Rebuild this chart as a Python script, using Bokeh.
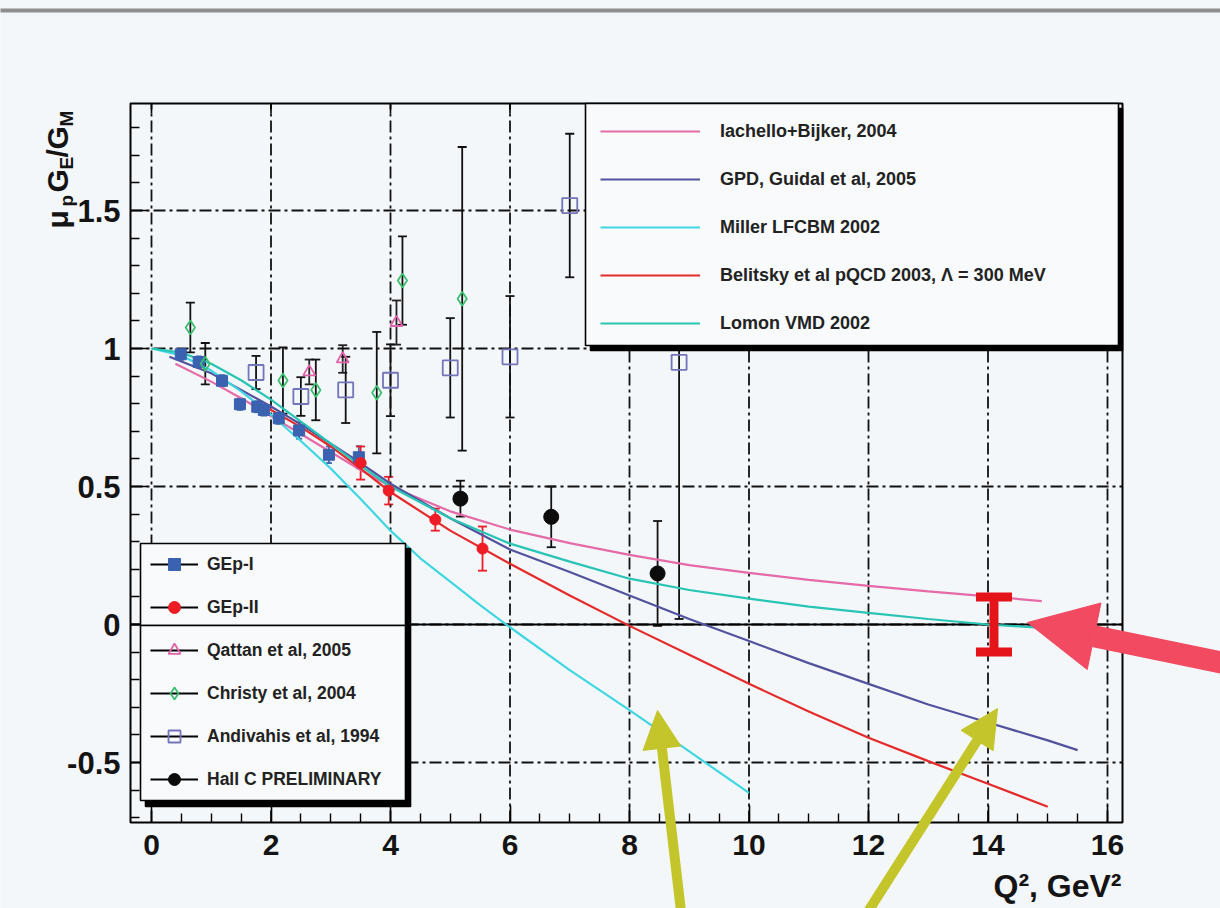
import math
import numpy as np
from bokeh.plotting import figure
from bokeh.models import (Range1d, FixedTicker, BoxAnnotation, Label, Legend, LegendItem,
                          Whisker, TeeHead, ColumnDataSource, Arrow, NormalHead)
from bokeh.embed import file_html
from bokeh.resources import INLINE

# ---------------- data ----------------
x_major = [0, 2, 4, 6, 8, 10, 12, 14, 16]
x_minor = [0.5, 1, 1.5, 2.5, 3, 3.5, 4.5, 5, 5.5, 6.5, 7, 7.5, 8.5, 9, 9.5, 10.5, 11, 11.5,
           12.5, 13, 13.5, 14.5, 15, 15.5]
x_tick_labels = ["0", "2", "4", "6", "8", "10", "12", "14", "16"]
y_major = [-0.5, 0, 0.5, 1, 1.5]
y_minor = [-0.7, -0.6, -0.4, -0.3, -0.2, -0.1, 0.1, 0.2, 0.3, 0.4, 0.6, 0.7, 0.8, 0.9,
           1.1, 1.2, 1.3, 1.4, 1.6, 1.7, 1.8]
y_tick_labels = ["-0.5", "0", "0.5", "1", "1.5"]

# theory curves
iach_q2 = [0.4, 1, 1.5, 2, 2.5, 3, 3.5, 4, 5, 6, 7, 8, 9, 10, 11, 12, 13, 14, 14.9]
iach_r = [0.945, 0.88, 0.82, 0.755, 0.69, 0.625, 0.56, 0.50, 0.41, 0.344, 0.295, 0.252,
          0.215, 0.187, 0.162, 0.140, 0.120, 0.102, 0.085]
gpd_q2 = [0.3, 1, 1.5, 2, 2.5, 3, 3.5, 4, 5, 6, 7, 8, 9, 10, 11, 12, 13, 14, 15, 15.5]
gpd_r = [0.97, 0.91, 0.85, 0.79, 0.725, 0.655, 0.585, 0.51, 0.385, 0.272, 0.19, 0.105,
         0.02, -0.06, -0.14, -0.215, -0.29, -0.355, -0.42, -0.455]
miller_q2 = [0, 0.5, 1, 1.5, 2, 2.5, 3, 3.5, 4, 4.5, 5, 5.5, 6, 7, 8, 9, 10]
miller_r = [1.0, 0.975, 0.92, 0.845, 0.76, 0.665, 0.565, 0.455, 0.34, 0.24, 0.155, 0.07,
            -0.01, -0.165, -0.31, -0.46, -0.61]
bel_q2 = [1.9, 2.5, 3, 3.5, 4, 5, 6, 7, 8, 9, 10, 11, 12, 13, 14, 15]
bel_r = [0.79, 0.715, 0.645, 0.565, 0.48, 0.34, 0.22, 0.105, -0.005, -0.11, -0.215,
         -0.315, -0.41, -0.495, -0.577, -0.66]
lomon_q2 = [0, 0.5, 1, 1.5, 2, 2.5, 3, 3.5, 4, 5, 6, 7, 8, 9, 10, 11, 12, 13, 14, 14.9]
lomon_r = [1.0, 0.985, 0.945, 0.885, 0.815, 0.735, 0.655, 0.575, 0.50, 0.385, 0.293,
           0.228, 0.166, 0.125, 0.094, 0.065, 0.042, 0.02, 0.0, -0.012]

# measurements
gep1_q2 = [0.49, 0.79, 1.18, 1.48, 1.77, 1.88, 2.13, 2.47, 2.97, 3.47]
gep1_r = [0.979, 0.951, 0.883, 0.798, 0.789, 0.777, 0.747, 0.703, 0.615, 0.606]
gep1_e = [0.02, 0.02, 0.02, 0.02, 0.02, 0.02, 0.02, 0.03, 0.03, 0.04]
gep2_q2 = [3.50, 3.97, 4.75, 5.54]
gep2_r = [0.585, 0.485, 0.38, 0.275]
gep2_e = [0.06, 0.05, 0.04, 0.08]
qattan_q2 = [2.64, 3.20, 4.10]
qattan_r = [0.915, 0.962, 1.094]
qattan_e = [0.045, 0.05, 0.08]
christy_q2 = [0.65, 0.90, 2.20, 2.75, 3.77, 4.20, 5.20]
christy_r = [1.076, 0.945, 0.884, 0.85, 0.84, 1.246, 1.18]
christy_e = [0.09, 0.075, 0.12, 0.11, 0.22, 0.16, 0.55]
andiv_q2 = [1.75, 2.50, 3.25, 4.00, 5.00, 6.00, 7.00, 8.83]
andiv_r = [0.913, 0.826, 0.85, 0.885, 0.93, 0.97, 1.518, 0.95]
andiv_e = [0.06, 0.07, 0.12, 0.13, 0.18, 0.22, 0.26, 0.93]
hallc_q2 = [5.17, 6.69, 8.47]
hallc_r = [0.456, 0.39, 0.185]
hallc_e = [0.065, 0.11, 0.19]
proj_q2 = [14.1]
proj_r = [0.0]
proj_e = [0.1]

curve_labels = ["Iachello+Bijker, 2004", "GPD, Guidal et al, 2005", "Miller LFCBM 2002",
                "Belitsky et al pQCD 2003, \u039b = 300 MeV", "Lomon VMD 2002"]
data_labels = ["GEp-I", "GEp-II", "Qattan et al, 2005", "Christy et al, 2004",
               "Andivahis et al, 1994", "Hall C PRELIMINARY"]

# ---------------- layout helpers (pixel calibration of the picture) ----------------
W, H = 1220, 908
PX_X0, PX_PER_X = 151.0, 59.75
PX_Y0, PX_PER_Y = 624.0, 276.0


def dx(px):
    return (px - PX_X0) / PX_PER_X


def dy(py):
    return (PX_Y0 - py) / PX_PER_Y


FR_L, FR_R, FR_T, FR_B = dx(130), dx(1122), dy(103), dy(822)
BG = "#f4f7fa"
FONT = "Liberation Sans"

p = figure(width=W, height=H, x_range=Range1d(dx(0), dx(W)), y_range=Range1d(dy(H), dy(0)),
           output_backend="svg", toolbar_location=None, min_border=0,
           background_fill_color=BG, border_fill_color=BG, outline_line_color=None)
p.grid.visible = False

xt = FixedTicker(ticks=x_major, minor_ticks=x_minor)
yt = FixedTicker(ticks=y_major, minor_ticks=y_minor)

xa = p.xaxis[0]
xa.fixed_location = FR_B
xa.ticker = xt
xa.major_label_overrides = {float(t): s for t, s in zip(x_major, x_tick_labels)}
ya = p.yaxis[0]
ya.fixed_location = FR_L
ya.ticker = yt
ya.major_label_overrides = {float(t): s for t, s in zip(y_major, y_tick_labels)}
for ax, fs, so in ((xa, "30px", 12), (ya, "31px", 10)):
    ax.axis_line_color = None
    ax.major_tick_in = 17
    ax.major_tick_out = 0
    ax.minor_tick_in = 9
    ax.minor_tick_out = 0
    ax.major_tick_line_color = "black"
    ax.minor_tick_line_color = "black"
    ax.major_tick_line_width = 1.6
    ax.minor_tick_line_width = 1.4
    ax.major_label_standoff = so
    ax.major_label_text_font = FONT
    ax.major_label_text_font_style = "bold"
    ax.major_label_text_font_size = fs
    ax.major_label_text_color = "#141414"

# dash-dot grid inside the frame, at the major ticks
GRID = dict(line_color="#111111", line_width=1.8, line_dash="12 4 3 4")
p.segment(x0=x_major, y0=[FR_B] * len(x_major), x1=x_major, y1=[FR_T] * len(x_major), **GRID)
p.segment(x0=[FR_L] * len(y_major), y0=y_major, x1=[FR_R] * len(y_major), y1=y_major, **GRID)

# ticks on the upper edge of the frame
p.segment(x0=x_major, y0=[FR_T] * len(x_major), x1=x_major,
          y1=[dy(113)] * len(x_major), line_color="black", line_width=1.6)

# zero line
p.segment(x0=[FR_L], y0=[0], x1=[FR_R], y1=[0], line_color="black", line_width=2)

# theory curves
C_IACH, C_GPD, C_MILLER, C_BEL, C_LOMON = "#e46aa8", "#52529e", "#3fd6e4", "#e52a2a", "#28c4b4"
r_iach = p.line(iach_q2, iach_r, line_color=C_IACH, line_width=2.2)
r_gpd = p.line(gpd_q2, gpd_r, line_color=C_GPD, line_width=2.2)
r_mil = p.line(miller_q2, miller_r, line_color=C_MILLER, line_width=2.2)
r_bel = p.line(bel_q2, bel_r, line_color=C_BEL, line_width=2.2)
r_lom = p.line(lomon_q2, lomon_r, line_color=C_LOMON, line_width=2.2)


def bars(q, r, e, color, lw=1.8, cap=9, level=None):
    src = ColumnDataSource(dict(x=q, lo=[a - b for a, b in zip(r, e)],
                                hi=[a + b for a, b in zip(r, e)]))
    kw = {} if level is None else dict(level=level)
    w = Whisker(source=src, base="x", lower="lo", upper="hi", dimension="height",
                line_color=color, line_width=lw,
                upper_head=TeeHead(size=cap, line_color=color, line_width=lw),
                lower_head=TeeHead(size=cap, line_color=color, line_width=lw), **kw)
    p.add_layout(w)


bars(gep1_q2, gep1_r, gep1_e, "#3a62b0", cap=6)
bars(gep2_q2, gep2_r, gep2_e, "#ee1c25")
bars(qattan_q2, qattan_r, qattan_e, "#222222")
bars(christy_q2, christy_r, christy_e, "#111111")
bars(andiv_q2, andiv_r, andiv_e, "#111111")
bars(hallc_q2, hallc_r, hallc_e, "#111111")

s_gep1 = p.scatter(gep1_q2, gep1_r, marker="square", size=11, fill_color="#3a62b0",
                   line_color="#3a62b0")
s_gep2 = p.scatter(gep2_q2, gep2_r, marker="circle", size=11, fill_color="#ee1c25",
                   line_color="#ee1c25")
s_qat = p.scatter(qattan_q2, qattan_r, marker="triangle", size=12, fill_color=None,
                  line_color="#e062aa", line_width=1.8)
s_chr = p.scatter(christy_q2, christy_r, marker="diamond", size=14, fill_color=None,
                  line_color="#3cc070", line_width=1.8)
s_and = p.scatter(andiv_q2, andiv_r, marker="square", size=15, fill_color=None,
                  line_color="#7474b8", line_width=1.8)
s_hal = p.scatter(hallc_q2, hallc_r, marker="circle", size=15, fill_color="#0c0c0c",
                  line_color="#0c0c0c")
# legend-only black line (a single undefined point draws nothing in the plot)
blk = p.line(x=np.array([np.nan]), y=np.array([np.nan]), line_color="black", line_width=1.8)

# projected measurement
bars(proj_q2, proj_r, proj_e, "#e4141a", lw=9, cap=36, level="annotation")

# frame
p.add_layout(BoxAnnotation(left=FR_L, right=FR_R, top=FR_T, bottom=FR_B, fill_color=None,
                           fill_alpha=0, line_color="black", line_width=2, line_alpha=1))


def box(l, r, t, b, fill, line_color="black", lw=1.6, level="annotation"):
    p.add_layout(BoxAnnotation(left=dx(l), right=dx(r), top=dy(t), bottom=dy(b),
                               fill_color=fill, fill_alpha=1, line_color=line_color,
                               line_alpha=1, line_width=lw, level=level))


LEG_BG = "#f8fafc"
# top-right legend box with shadow
box(590, 1122, 108, 350, "black")
box(585, 1118, 103, 345, LEG_BG)
# bottom-left legend boxes with shadow
box(145, 410, 548, 806, "black")
box(140, 405, 543, 625, LEG_BG)
box(140, 405, 625, 800, LEG_BG)

leg_style = dict(padding=0, margin=0, border_line_color=None, background_fill_alpha=0,
                 label_text_font=FONT, label_text_font_style="bold",
                 label_text_color="#222222", glyph_height=30, label_height=30)
leg1 = Legend(items=[LegendItem(label=l, renderers=[r]) for l, r in
                     zip(curve_labels, [r_iach, r_gpd, r_mil, r_bel, r_lom])],
              location=(600, H - 338), glyph_width=100, label_standoff=20, spacing=18,
              label_text_font_size="18px", **leg_style)
p.add_layout(leg1)
leg2 = Legend(items=[LegendItem(label=l, renderers=[blk, s]) for l, s in
                     zip(data_labels, [s_gep1, s_gep2, s_qat, s_chr, s_and, s_hal])],
              location=(150, H - 794), glyph_width=48, label_standoff=9, spacing=13,
              label_text_font_size="17.5px", **leg_style)
p.add_layout(leg2)

# axis titles
p.add_layout(Label(x=dx(1121), y=dy(885), text="Q\u00b2, GeV\u00b2", text_align="right",
                   text_baseline="alphabetic", text_font=FONT, text_font_style="bold",
                   text_font_size="32px", text_color="#141414"))
title_parts = [("\u03bc", "30px", 228, 57), ("p", "19px", 206, 66), ("G", "30px", 192, 57),
               ("E", "19px", 169, 66), ("/", "30px", 157, 57), ("G", "30px", 149, 57),
               ("M", "19px", 126, 66)]
for txt, fs, py, pxb in title_parts:
    p.add_layout(Label(x=dx(pxb), y=dy(py), text=txt, angle=math.pi / 2, text_align="left",
                       text_baseline="alphabetic", text_font=FONT, text_font_style="bold",
                       text_font_size=fs, text_color="#141414"))

# clean page edges (top and left strips), then the grey rule of the slide
box(-40, W + 40, -40, 7, BG, line_color=None, lw=0, level="overlay")
box(-40, 7, -40, H + 40, BG, line_color=None, lw=0, level="overlay")
box(-40, W + 40, 8, 12, "#8e8e8e", line_color=None, lw=0, level="overlay")

# annotation arrows
RED_A, YEL_A = "#f24a60", "#c4c52a"
arrows = [((1240, 666), (1027, 622), RED_A, 22, 68),
          ((681, 915), (657, 710), YEL_A, 10, 38),
          ((865, 915), (997, 708), YEL_A, 10, 38)]
for (sx, sy), (ex, ey), col, lw, hs in arrows:
    p.add_layout(Arrow(x_start=dx(sx), y_start=dy(sy), x_end=dx(ex), y_end=dy(ey),
                       line_color=col, line_width=lw,
                       end=NormalHead(size=hs, fill_color=col, line_color=col, line_width=1)))

open("out.html", "w").write(file_html(p, INLINE))
